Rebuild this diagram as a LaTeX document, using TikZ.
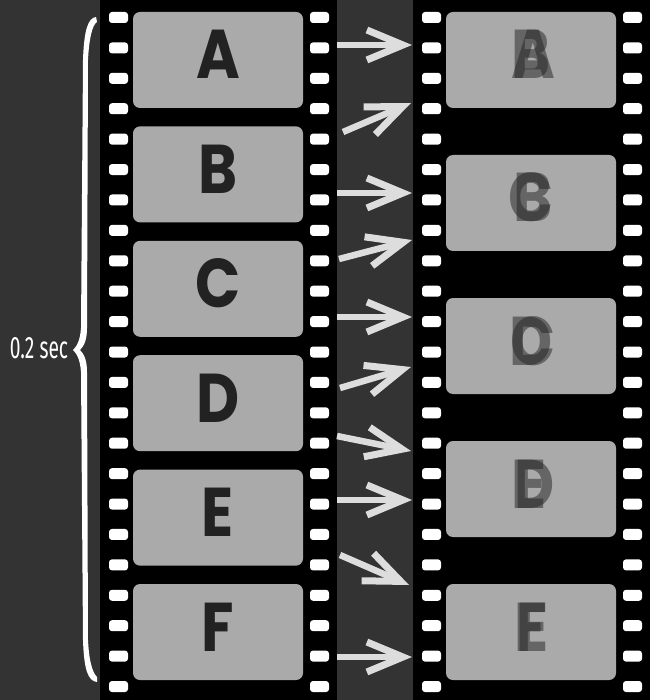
\documentclass[tikz,border=0pt]{standalone}
\usepackage{fontspec}
\setmainfont{Poppins}
\newfontfamily\lettfont[FakeStretch=0.86]{Poppins}
\newfontfamily\secfont[FakeStretch=0.62]{Fira Sans}
\usetikzlibrary{arrows.meta}

\definecolor{bgcol}{HTML}{333333}
\definecolor{framecol}{HTML}{AAAAAA}
\definecolor{lettcol}{HTML}{222222}
\definecolor{arrcol}{HTML}{DDDDDD}

\begin{document}
\begin{tikzpicture}[x=1pt,y=-1pt,
    frame/.style={fill=framecol,rounded corners=7pt,minimum width=170pt,
      minimum height=96pt,inner sep=0pt},
    hole/.style={fill=white,rounded corners=3pt},
    letter/.style={font=\lettfont\fontsize{69}{69}\selectfont\bfseries,text=lettcol,
      anchor=base,inner sep=0pt},
    ghost/.style={letter,text opacity=.5},
    arr/.style={draw=arrcol,line width=6.5pt,
      -{Straight Barb[length=36pt,width=30pt,line width=7pt]}}]
      \useasboundingbox (0,0) rectangle (650,700);
      \fill[bgcol] (0,0) rectangle (650,700);

      %%%%%%%%%%%%%%%%%%%%%%%%%%%%%%%%%%%%%%%%%%%%%%%%%%%%%%%%%%%%%%%%%%%%%%%%%%%
      %%%%  Strips and holes
      \fill[black] (100,0) rectangle (337,700);
      \fill[black] (413,0) rectangle (650,700);
      \foreach \i in {0,...,22}
      {\pgfmathsetmacro\y{12 + 30.41*\i}
       \foreach \x in {109,310,422,623}
        {\fill[hole] (\x,\y) rectangle ++(19,11);}};

      %%%%%%%%%%%%%%%%%%%%%%%%%%%%%%%%%%%%%%%%%%%%%%%%%%%%%%%%%%%%%%%%%%%%%%%%%%%
      %%%%  Left frames
      \foreach \l [count=\i from 0] in {A,B,C,D,E,F}
      {\pgfmathsetmacro\y{12 + 114.4*\i}
       \node[frame] (l\i) at (218,\y+48) {};
       \node[letter] (tl\i) at (218,\y+67) {\l};
      };

      %%%%%%%%%%%%%%%%%%%%%%%%%%%%%%%%%%%%%%%%%%%%%%%%%%%%%%%%%%%%%%%%%%%%%%%%%%%
      %%%%  Right frames (two letters blended)
      \foreach \a/\b [count=\i from 0] in {A/B,B/C,C/D,D/E,E/F}
      {\pgfmathsetmacro\y{12 + 143*\i}
       \node[frame] (r\i) at (531,\y+48) {};
       \node[ghost] (ta\i) at (533,\y+67) {\a};
       \node[ghost] (tb\i) at (531,\y+67) {\b};
      };

      %%%%%%%%%%%%%%%%%%%%%%%%%%%%%%%%%%%%%%%%%%%%%%%%%%%%%%%%%%%%%%%%%%%%%%%%%%%
      %%%%  Arrows
      \foreach \n/\xa/\ya/\xb/\yb in
        {1/337/45/412/45, 2/343/132/411/103, 3/337/193/412/193,
         4/339/259/412/240, 5/337/317/412/317, 6/340/388/411/367,
         7/337/436/411/451, 8/337/500/412/500, 9/340/555/409/585,
         10/337/657/412/657}
      {\coordinate (s\n) at (\xa,\ya);
       \coordinate (e\n) at (\xb,\yb);
       \draw[arr] (s\n) -- (e\n);
      };

      %%%%%%%%%%%%%%%%%%%%%%%%%%%%%%%%%%%%%%%%%%%%%%%%%%%%%%%%%%%%%%%%%%%%%%%%%%%
      %%%%  Brace
      \fill[white] (96,17) .. controls (88,18) and (84,30) .. (83,60)
        -- (81,328) .. controls (80,342) and (76,347) .. (73,350)
        .. controls (76,353) and (80,358) .. (81,372)
        -- (83,640) .. controls (84,670) and (88,681) .. (97,682)
        -- (97,677) .. controls (92,672) and (89,660) .. (88,640)
        -- (87,372) .. controls (87,360) and (84,354) .. (80,350)
        .. controls (84,346) and (87,340) .. (87,328)
        -- (88,60) .. controls (89,40) and (92,25) .. (97,22) -- cycle;
      \node[text=white,font=\secfont\fontsize{31}{31}\selectfont,inner sep=0pt]
        (sec) at (39,348) {0.2 sec};
    \end{tikzpicture}
\end{document}
